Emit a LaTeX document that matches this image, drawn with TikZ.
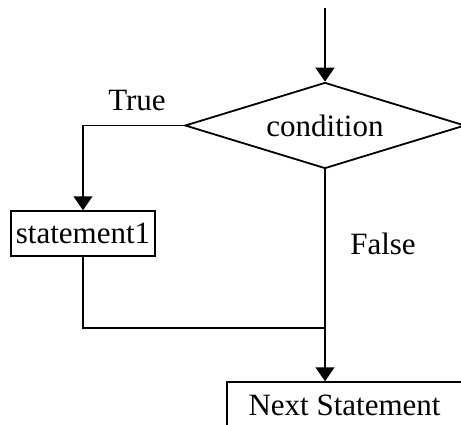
\documentclass[tikz,border=0pt]{standalone}
\usepackage{fontspec}
\setmainfont{Liberation Serif}
\usetikzlibrary{shapes.geometric,arrows.meta}
\tikzset{
  arr/.style={-{Triangle[length=14pt,width=19pt]}},
  decision/.style={draw,diamond,aspect=3.25,inner sep=0pt,minimum width=280pt,minimum height=86pt,line width=1.8pt},
  stmt/.style={draw,rectangle,inner sep=0pt,line width=1.5pt},
}
\begin{document}
\begin{tikzpicture}[x=1pt,y=-1pt,line width=1.5pt,font=\fontsize{31}{36}\selectfont]
    \useasboundingbox (0,0) rectangle (461,424);
    \clip (0,0) rectangle (461,424);
    \node[decision] (cond) at (325,125.5) {condition};
    \node[stmt,minimum width=144pt,minimum height=45pt] (st1) at (83,233.5) {statement1};
    \node[stmt,minimum width=235pt,minimum height=47pt] (next) at (344.5,405.5) {Next Statement};
    \coordinate (top) at (325,8);
    \coordinate (join) at (325,328);
    \node at (137,100) {True};
    \node at (383,244) {False};
    \draw[arr] (top) -- (cond.north);
    \draw[arr] (cond.west) -| (st1.north);
    \draw (st1.south) |- (join);
    \draw (cond.south) -- (join);
    \draw[arr] (join) -- (join |- next.north);
\end{tikzpicture}
\end{document}
